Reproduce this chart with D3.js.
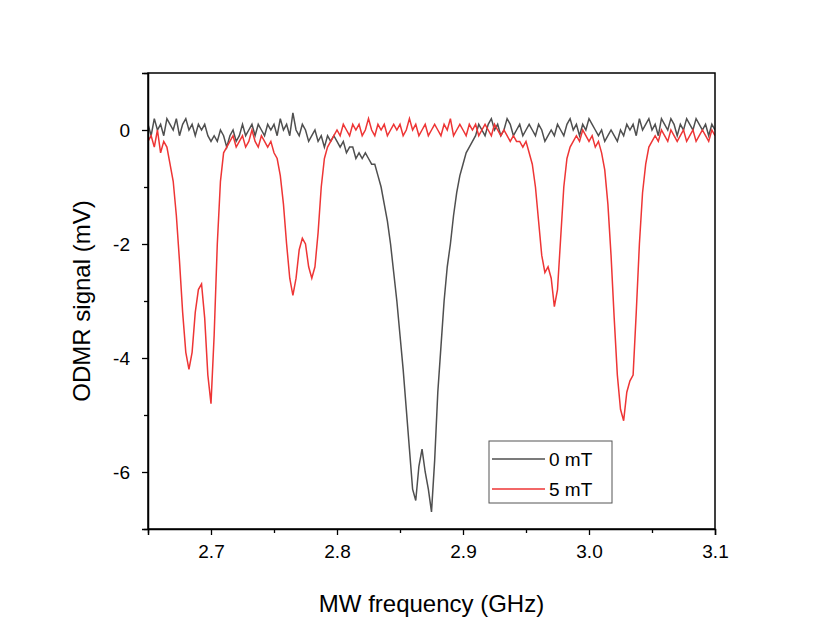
<!DOCTYPE html>
<html><head><meta charset="utf-8">
<script src="https://cdn.jsdelivr.net/npm/d3@7"></script>
<style>body{margin:0;background:#fff}text{font-family:"Liberation Sans",Arial,sans-serif}</style>
</head><body><svg id="c" width="830" height="636"></svg>
<script>
const freqStart = 2.65, freqStep = 0.0025;
const signal0mT = [
0.1,-0.1,0.2,0.0,0.1,-0.1,0.2,0.1,0.0,0.2,-0.1,0.1,0.2,0.0,0.1,-0.1,0.1,0.0,0.1,-0.1,
-0.2,-0.1,-0.2,0.0,-0.1,-0.3,-0.1,0.0,-0.2,-0.1,0.1,-0.1,0.0,0.1,-0.1,0.1,0.0,-0.1,0.1,0.0,
0.1,-0.1,0.2,0.0,0.1,-0.1,0.3,0.0,-0.1,0.1,0.0,-0.2,-0.1,0.0,-0.2,-0.1,-0.3,-0.1,-0.2,-0.1,
-0.2,-0.3,-0.2,-0.4,-0.3,-0.3,-0.5,-0.4,-0.5,-0.4,-0.5,-0.6,
-0.6,-0.8,-1.0,-1.3,-1.6,-2.0,-2.5,-3.0,
-3.6,-4.2,-4.9,-5.6,-6.3,-6.5,-5.9,-5.6,-6.0,-6.3,
-6.7,-5.8,-4.6,-3.8,-3.0,-2.4,-2.0,-1.5,-1.1,-0.8,
-0.6,-0.4,-0.3,-0.2,
-0.1,0.1,0.0,-0.1,0.1,0.2,0.0,0.1,-0.1,0.0,
0.2,0.1,-0.1,0.0,0.1,-0.1,0.0,0.1,0.0,-0.1,
0.1,0.0,-0.2,-0.1,0.0,-0.1,0.1,0.0,-0.1,0.1,
0.2,0.0,0.1,-0.1,0.1,0.0,0.2,0.1,0.0,-0.1,
0.0,-0.2,-0.1,0.0,-0.1,-0.2,0.0,-0.1,0.1,0.0,
0.1,-0.1,0.2,0.0,0.1,0.2,0.0,0.1,-0.1,0.2,
0.1,0.0,0.2,0.1,-0.1,0.1,0.0,0.2,0.1,0.0,
0.2,0.1,0.0,0.1,-0.1,0.1,0.0];
const signal5mT = [
-0.2,-0.1,-0.3,0.0,-0.4,-0.2,-0.3,-0.6,
-0.9,-1.5,-2.3,-3.2,-3.9,-4.2,-3.9,-3.2,-2.8,-2.7,-3.3,-4.3,-4.8,-3.6,-2.0,-0.9,-0.4,-0.3,
-0.2,-0.1,-0.3,-0.2,-0.1,-0.3,-0.2,0.0,-0.2,-0.3,-0.1,-0.2,-0.3,-0.2,-0.4,
-0.5,-0.8,-1.3,-2.0,-2.6,-2.9,-2.6,-2.1,-1.9,-2.0,-2.4,-2.6,-2.4,-1.8,-1.0,-0.5,-0.3,-0.2,-0.1,
0.0,-0.1,0.1,0.0,-0.1,0.1,0.0,0.1,-0.1,0.0,0.2,0.0,-0.1,0.1,0.0,0.1,-0.1,0.0,0.1,0.0,
0.1,-0.1,0.0,0.2,0.0,0.1,-0.1,0.0,0.1,-0.1,0.0,0.1,0.0,-0.1,0.1,0.0,0.2,-0.1,0.0,0.1,
0.0,-0.1,0.1,0.0,0.1,-0.1,0.0,0.1,0.0,-0.1,0.1,0.0,-0.1,0.0,
-0.1,-0.2,-0.1,-0.2,-0.2,-0.3,-0.2,
-0.4,-0.6,-1.0,-1.6,-2.2,-2.5,-2.4,-2.6,-3.1,-2.8,-1.9,-1.0,-0.5,-0.3,-0.2,
-0.1,-0.2,0.0,-0.1,-0.2,-0.1,-0.3,-0.2,-0.4,
-0.7,-1.3,-2.2,-3.3,-4.3,-4.9,-5.1,-4.6,-4.4,-4.3,-3.2,-2.0,-1.1,-0.6,-0.3,-0.2,
-0.1,-0.2,0.0,-0.1,-0.2,0.0,-0.1,-0.2,-0.1,0.0,-0.2,-0.1,0.0,-0.2,-0.1,0.0,-0.1,-0.2,0.0,-0.1];
const xTicks = [2.7,2.8,2.9,3.0,3.1];
const yTicks = [0,-2,-4,-6];
const seriesNames = ["0 mT","5 mT"];
const seriesColors = ["#4f4f4f","#ee3535"];

const svg = d3.select("#c");
const L=148,R=715,T=73,B=529;
const x = d3.scaleLinear().domain([2.65,3.1]).range([L,R]);
const y = d3.scaleLinear().domain([-7,1]).range([B,T]);
const g = svg.append("g");
svg.append("clipPath").attr("id","cp").append("rect").attr("x",L).attr("y",T).attr("width",R-L).attr("height",B-T);
const line = d3.line().x((d,i)=>x(freqStart+i*freqStep)).y(d=>y(d));
[signal0mT,signal5mT].forEach((s,k)=>{
  g.append("path").attr("d",line(s)).attr("fill","none").attr("stroke",seriesColors[k]).attr("stroke-width",1.5).attr("clip-path","url(#cp)");
});
g.append("rect").attr("x",L).attr("y",T).attr("width",R-L).attr("height",B-T).attr("fill","none").attr("stroke","#000").attr("stroke-width",1.5);
svg.append("g").attr("transform",`translate(0,${B})`).call(d3.axisBottom(x).tickValues(xTicks).tickFormat(d3.format(".1f")).tickSize(6).tickPadding(10));
svg.append("g").attr("transform",`translate(0,${B})`).call(d3.axisBottom(x).tickValues([2.65,2.75,2.85,2.95,3.05]).tickFormat("").tickSize(4)).select(".domain").remove();
svg.append("g").attr("transform",`translate(${L},0)`).call(d3.axisLeft(y).tickValues(yTicks).tickFormat(d=>String(d).replace("−","-")).tickSize(6).tickPadding(12));
svg.append("g").attr("transform",`translate(${L},0)`).call(d3.axisLeft(y).tickValues([1,-1,-3,-5,-7]).tickFormat("").tickSize(4)).select(".domain").remove();
svg.selectAll(".tick line").attr("stroke","#000").attr("stroke-width",1.3);
svg.selectAll(".domain").attr("stroke","#000").attr("stroke-width",1.5);
svg.selectAll(".tick text").style("font-size","19px").attr("fill","#000").style("font-family","Liberation Sans, Arial");
svg.append("text").attr("x",(L+R)/2).attr("y",612).attr("text-anchor","middle").style("font-size","24px").text("MW frequency (GHz)");
svg.append("text").attr("transform",`translate(90,${(T+B)/2}) rotate(-90)`).attr("text-anchor","middle").style("font-size","24px").text("ODMR signal (mV)");
const lg = svg.append("g");
lg.append("rect").attr("x",489).attr("y",441).attr("width",123).attr("height",62).attr("fill","#fff").attr("stroke","#555").attr("stroke-width",1);
seriesNames.forEach((n,k)=>{
  const yy=459+k*30;
  lg.append("line").attr("x1",492).attr("x2",545).attr("y1",yy).attr("y2",yy).attr("stroke",seriesColors[k]).attr("stroke-width",1.5);
  lg.append("text").attr("x",549).attr("y",yy+7).style("font-size","19px").text(n);
});
</script></body></html>
